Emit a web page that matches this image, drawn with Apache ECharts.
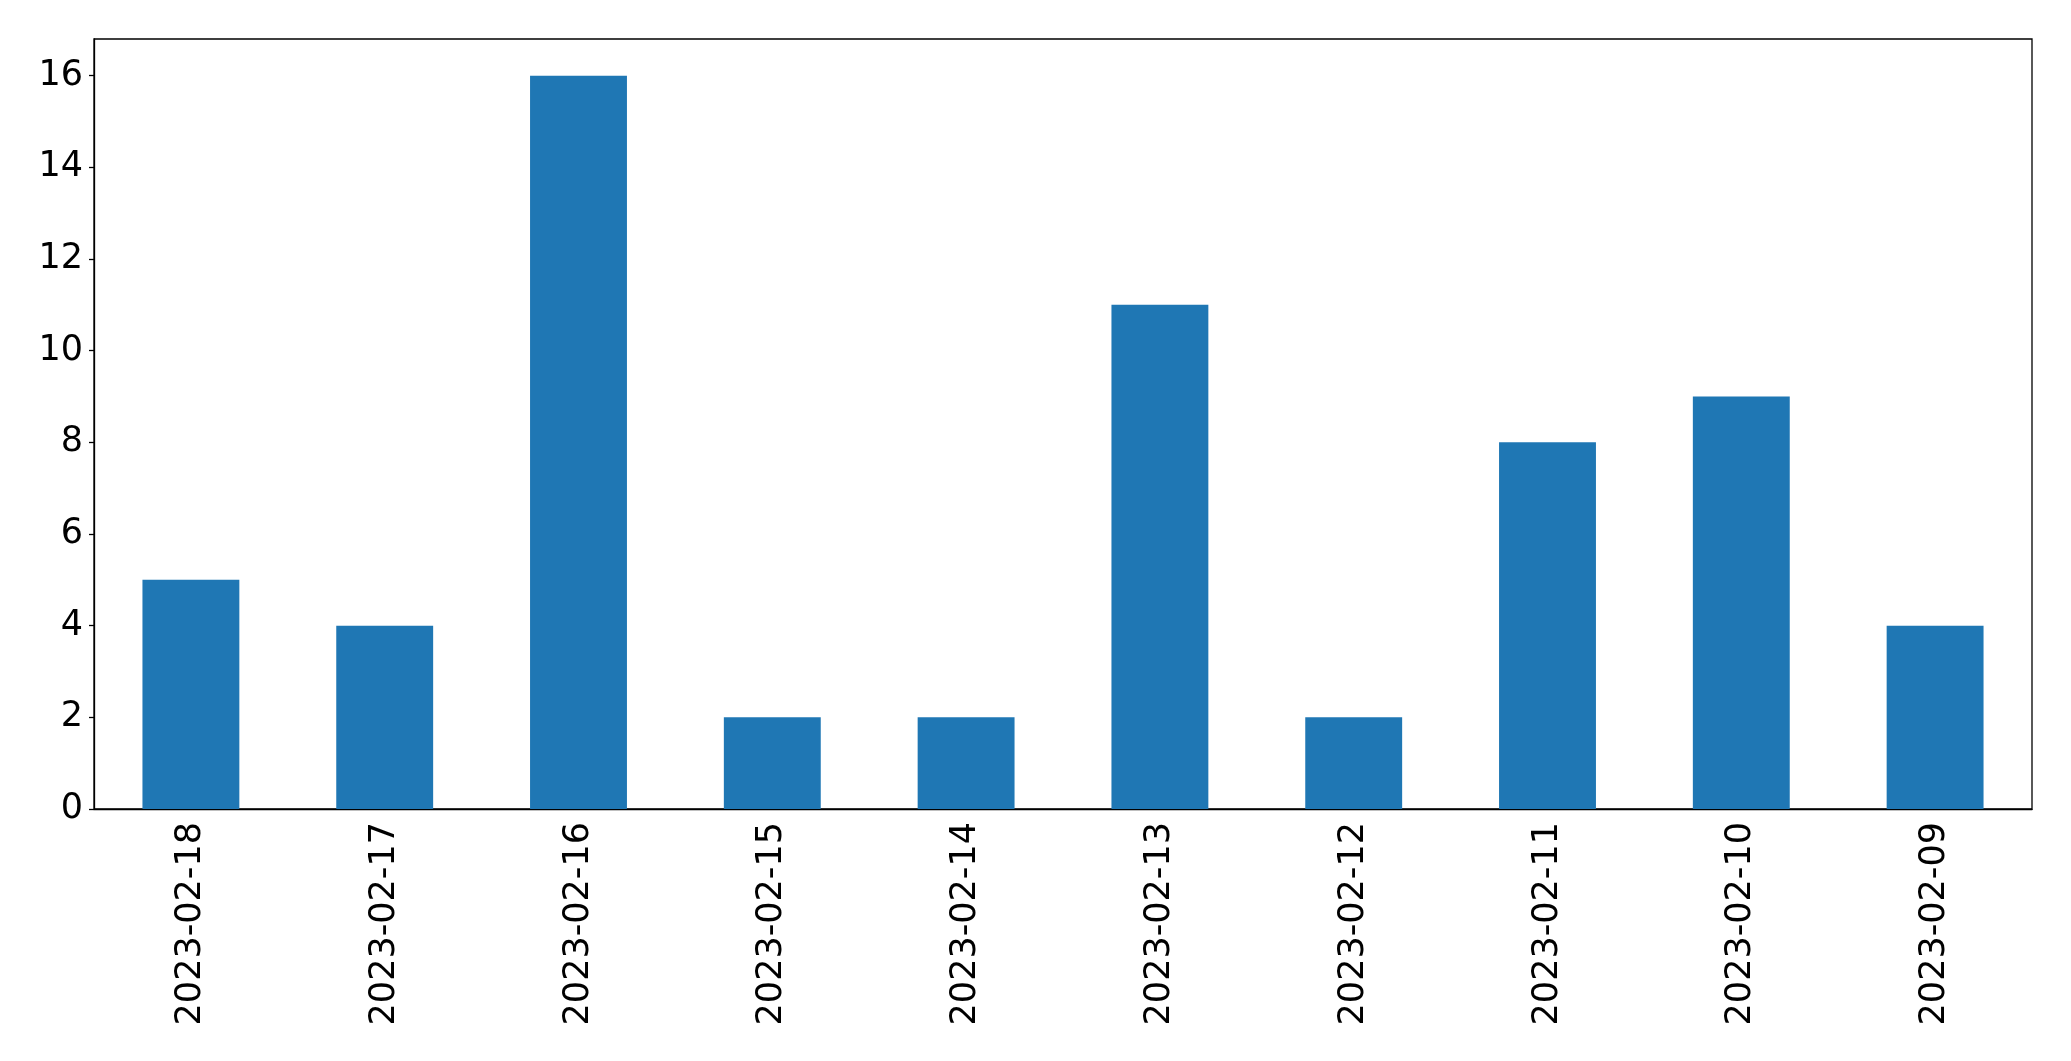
<!DOCTYPE html>
<html>
<head>
<meta charset="utf-8">
<script src="https://cdn.jsdelivr.net/npm/echarts@6/dist/echarts.min.js"></script>
<style>html,body{margin:0;padding:0;background:#fff;}#chart{width:2071px;height:1061px;}</style>
</head>
<body>
<div id="chart"></div>
<script>
const categories = ['2023-02-18','2023-02-17','2023-02-16','2023-02-15','2023-02-14','2023-02-13','2023-02-12','2023-02-11','2023-02-10','2023-02-09'];
const counts = [5, 4, 16, 2, 2, 11, 2, 8, 9, 4];
const yTicks = [0, 2, 4, 6, 8, 10, 12, 14, 16];

const chart = echarts.init(document.getElementById('chart'));
const font = 'DejaVu Sans';
chart.setOption({
  animation: false,
  backgroundColor: '#fff',
  grid: {
    left: 94, top: 39, width: 1938, height: 770,
    show: true, borderColor: '#000', borderWidth: 1.3, backgroundColor: 'transparent'
  },
  xAxis: {
    type: 'category',
    data: categories,
    boundaryGap: true,
    axisLine: { lineStyle: { color: '#000', width: 1.3 } },
    axisTick: { alignWithLabel: true, length: 5, lineStyle: { color: '#000', width: 1.3 } },
    axisLabel: { rotate: 90, fontSize: 35, fontFamily: font, color: '#000', margin: 13, interval: 0 },
    splitLine: { show: false }
  },
  yAxis: {
    type: 'value',
    min: 0, max: 16.8, interval: 2,
    axisLine: { show: true, lineStyle: { color: '#000', width: 1.3 } },
    axisTick: { show: true, length: 5, lineStyle: { color: '#000', width: 1.3 }, customValues: yTicks },
    axisLabel: { fontSize: 35, fontFamily: font, color: '#000', margin: 11, customValues: yTicks },
    splitLine: { show: false }
  },
  series: [{
    type: 'bar',
    data: counts,
    barWidth: '50%',
    itemStyle: { color: '#1f77b4' }
  }]
});
</script>
</body>
</html>
